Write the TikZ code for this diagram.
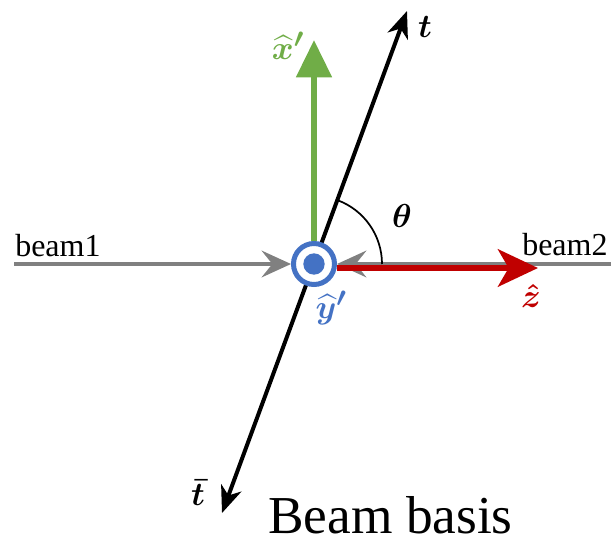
\documentclass[tikz,border=0pt]{standalone}
\usepackage{amsmath}
\usepackage{fontspec}
\setmainfont{Liberation Serif}
\usetikzlibrary{arrows.meta,positioning}

\definecolor{axgreen}{RGB}{112,173,71}
\definecolor{axred}{RGB}{192,0,0}
\definecolor{axblue}{RGB}{68,114,196}
\definecolor{beamgray}{RGB}{128,128,128}

\begin{document}
\begin{tikzpicture}[x=0.75pt,y=0.75pt]
   \tikzstyle{lbl}=[inner sep=0pt,font=\fontsize{28}{32}\selectfont]
   \tikzstyle{beamtxt}=[inner sep=0pt,anchor=base west,font=\fontsize{24}{28}\selectfont]
   \tikzstyle{beamarr}=[line width=3pt,beamgray,-{Stealth[length=22pt,width=20pt,inset=8pt]}]

   \useasboundingbox (0,0) rectangle (611,-543);

   \node (o) at (314,-264) [circle,line width=3.75pt,minimum size=30.75pt,inner sep=0pt] {} ;

   \coordinate (b1) at (14,-264) ;
   \coordinate (b2) at (611,-264) ;
   \draw [beamarr] (b1) -- (o.west) ;
   \draw [beamarr] (b2) -- (o.east) ;

   \coordinate (tt) at (407,-11) ;
   \coordinate (tb) at (222,-513) ;
   \draw [line width=3pt,{Stealth[length=20pt,width=16pt,inset=6pt]}-{Stealth[length=20pt,width=16pt,inset=6pt]}] (tb) -- (tt) ;

   \draw [line width=1.3pt] ([shift={(0:51pt)}]o.center) arc [start angle=0,end angle=70,radius=51pt] ;

   \coordinate (xt) at (314,-40) ;
   \draw [line width=4.5pt,axgreen,-{Triangle[length=28pt,width=26pt]}] (o.north) -- (xt) ;

   \coordinate (zt) at (538,-268) ;
   \draw [line width=4.5pt,axred,-{Stealth[length=30pt,width=28pt,inset=8pt]}] ([yshift=-3pt]o.east) -- (zt) ;

   \node (ring) at (o) [circle,draw=axblue,fill=white,line width=3.75pt,minimum size=30.75pt,inner sep=0pt] {} ;
   \node (dot) at (o) [circle,fill=axblue,minimum size=16pt,inner sep=0pt] {} ;

   \node (xlab) at (288,-46) [lbl,text=axgreen] {$\boldsymbol{\widehat{x}'}$} ;
   \node (tlab) at (425,-27) [lbl] {$\boldsymbol{t}$} ;
   \node (thlab) at (402,-216) [lbl] {$\boldsymbol{\theta}$} ;
   \node (ylab) at (331,-308) [lbl,text=axblue] {$\boldsymbol{\widehat{y}'}$} ;
   \node (zlab) at (531,-296) [lbl,text=axred] {$\boldsymbol{\hat{z}}$} ;
   \node (tblab) at (198,-493) [lbl] {$\boldsymbol{\bar{t}}$} ;

   \node (b1lab) at (15,-256) [beamtxt] {beam1} ;
   \node (b2lab) at (522,-255) [beamtxt] {beam2} ;
   \node (title) at (268,-533) [inner sep=0pt,anchor=base west,font=\fontsize{40}{48}\selectfont] {Beam basis} ;

\end{tikzpicture}
\end{document}
